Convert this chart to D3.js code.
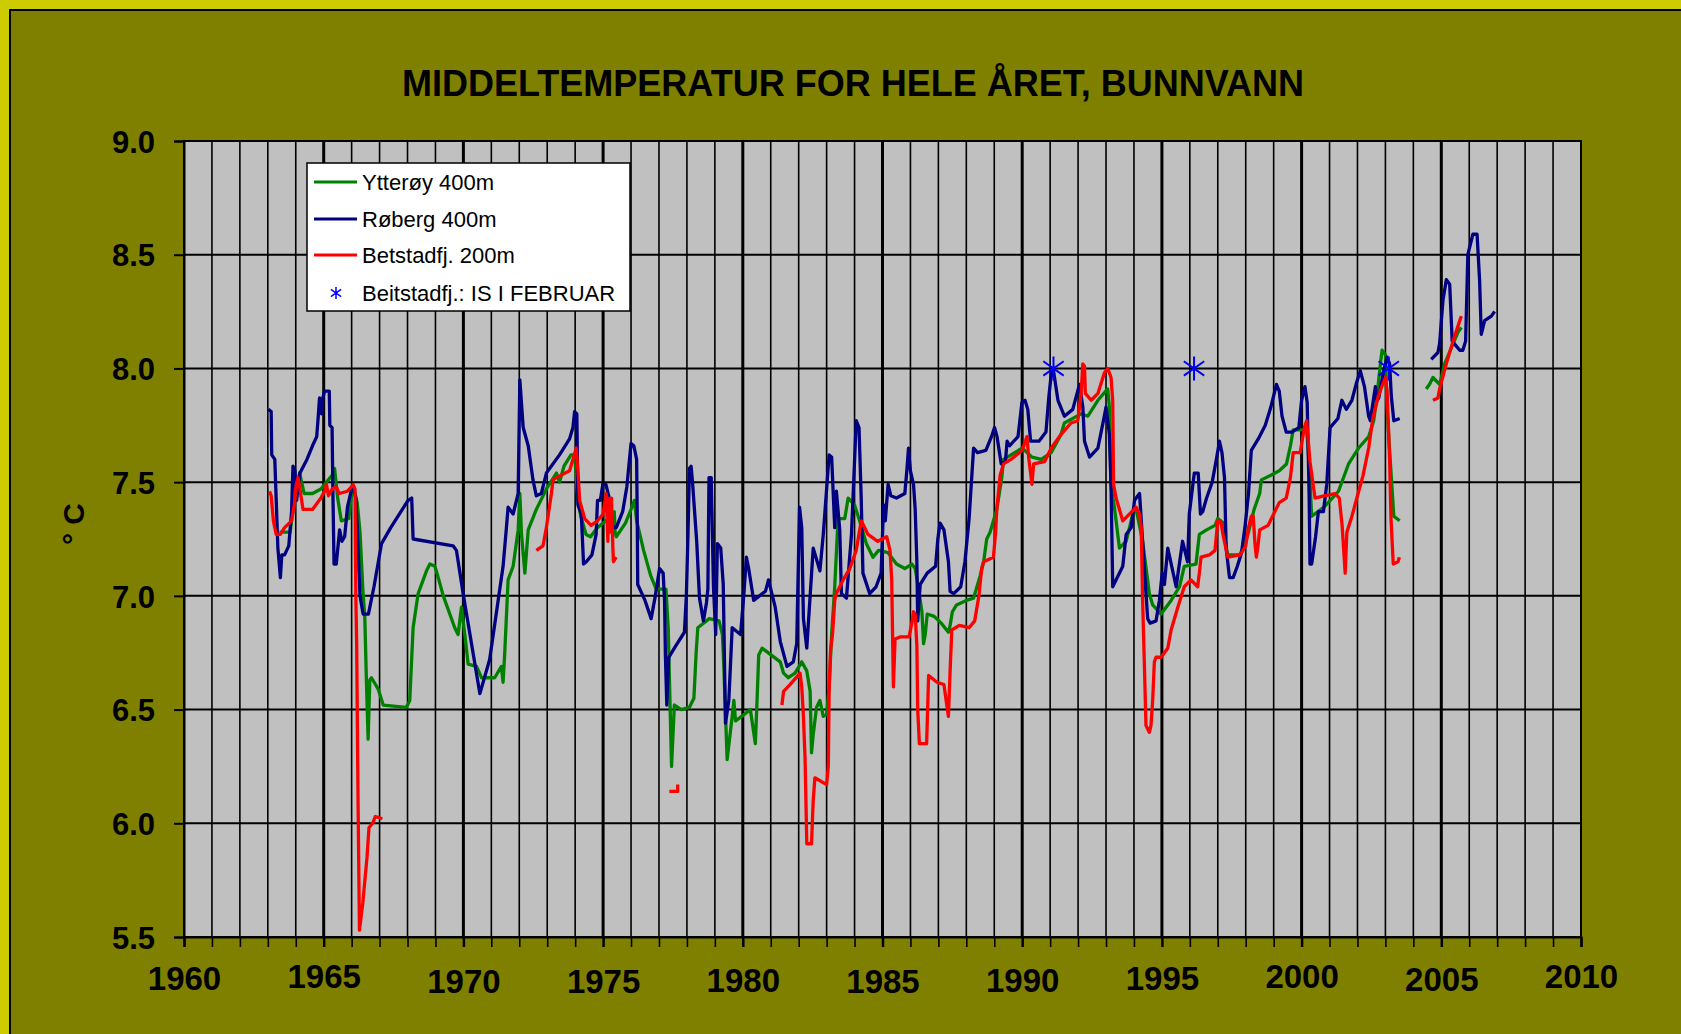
<!DOCTYPE html>
<html><head><meta charset="utf-8">
<script src="https://cdn.jsdelivr.net/npm/d3@7"></script>
<style>html,body{margin:0;padding:0;background:#CCCC00;overflow:hidden} svg{display:block}</style>
</head><body>
<svg id="chart" width="1681" height="1034"></svg>
<script>
// ---------------- DATA ----------------
const chartTitle = "MIDDELTEMPERATUR FOR HELE ÅRET, BUNNVANN";
const yAxisTitle = "° C";
const xTickValues = [1960, 1965, 1970, 1975, 1980, 1985, 1990, 1995, 2000, 2005, 2010];
const yTickValues = [5.5, 6.0, 6.5, 7.0, 7.5, 8.0, 8.5, 9.0];
const seriesNames = ["Ytterøy 400m", "Røberg 400m", "Betstadfj. 200m"];
const markerName = "Beitstadfj.: IS I FEBRUAR";

// [year, °C]; a null value breaks the line
const ytteroy = [
 [1963.42,7.28],[1963.8,7.28],[1963.85,7.33],[1964.03,7.48],[1964.14,7.54],[1964.3,7.45],[1964.6,7.45],
 [1964.9,7.47],[1965.1,7.50],[1965.3,7.53],[1965.39,7.56],[1965.5,7.43],[1965.63,7.33],[1965.9,7.34],
 [1966.0,7.45],[1966.08,7.47],[1966.2,7.41],[1966.3,7.28],[1966.4,7.03],[1966.47,6.91],[1966.53,6.62],
 [1966.59,6.37],[1966.65,6.63],[1966.71,6.64],[1966.95,6.59],[1967.13,6.52],[1967.96,6.51],[1968.08,6.54],
 [1968.20,6.86],[1968.38,7.01],[1968.68,7.11],[1968.80,7.14],[1968.98,7.13],[1969.10,7.08],[1969.28,7.00],
 [1969.69,6.86],[1969.81,6.83],[1969.93,6.95],[1970.05,6.83],[1970.17,6.70],[1970.47,6.69],[1970.65,6.64],
 [1971.12,6.64],[1971.36,6.69],[1971.42,6.62],[1971.48,6.75],[1971.60,7.07],[1971.78,7.13],[1971.96,7.29],
 [1972.02,7.45],[1972.08,7.27],[1972.20,7.10],[1972.32,7.29],[1972.61,7.38],[1972.97,7.47],[1973.33,7.54],
 [1973.44,7.50],[1973.6,7.57],[1973.85,7.62],[1973.98,7.62],[1974.1,7.42],[1974.2,7.35],[1974.39,7.27],
 [1974.55,7.26],[1974.8,7.30],[1975.1,7.33],[1975.4,7.37],[1975.43,7.28],[1975.47,7.26],[1975.8,7.32],
 [1976.0,7.38],[1976.12,7.42],[1976.2,7.33],[1976.45,7.20],[1976.7,7.09],[1976.9,7.03],[1977.25,7.03],
 [1977.33,6.86],[1977.4,6.50],[1977.45,6.25],[1977.55,6.52],[1977.8,6.50],[1978.09,6.51],[1978.25,6.55],
 [1978.33,6.75],[1978.39,6.86],[1978.8,6.90],[1979.15,6.89],[1979.27,6.83],[1979.32,6.69],[1979.44,6.28],
 [1979.62,6.47],[1979.68,6.54],[1979.74,6.45],[1980.27,6.50],[1980.33,6.45],[1980.45,6.35],[1980.51,6.54],
 [1980.57,6.74],[1980.69,6.77],[1981.34,6.71],[1981.46,6.66],[1981.63,6.64],[1981.87,6.66],[1982.11,6.71],
 [1982.29,6.67],[1982.41,6.58],[1982.46,6.31],[1982.52,6.39],[1982.64,6.51],[1982.76,6.54],[1982.88,6.47],
 [1983.00,6.48],[1983.09,6.60],[1983.18,6.83],[1983.29,7.04],[1983.41,7.34],[1983.65,7.34],[1983.77,7.43],
 [1984.00,7.40],[1984.18,7.33],[1984.42,7.23],[1984.66,7.17],[1984.86,7.20],[1985.2,7.19],[1985.5,7.14],
 [1985.8,7.12],[1986.05,7.14],[1986.17,7.12],[1986.29,7.03],[1986.41,6.93],[1986.47,6.79],[1986.53,6.83],
 [1986.6,6.92],[1986.85,6.91],[1987.1,6.88],[1987.36,6.84],[1987.42,6.87],[1987.5,6.93],[1987.65,6.96],
 [1988.0,6.98],[1988.26,6.99],[1988.38,7.04],[1988.5,7.09],[1988.62,7.15],[1988.73,7.25],[1988.85,7.28],
 [1989.09,7.38],[1989.27,7.52],[1989.33,7.60],[1989.6,7.62],[1990.0,7.65],[1990.35,7.61],[1990.68,7.60],
 [1991.04,7.63],[1991.39,7.71],[1991.51,7.76],[1992.11,7.80],[1992.35,7.79],[1992.71,7.86],[1993.06,7.91],
 [1993.12,7.83],[1993.18,7.48],[1993.30,7.39],[1993.48,7.21],[1993.72,7.24],[1993.96,7.36],[1994.08,7.38],
 [1994.31,7.24],[1994.55,7.01],[1994.67,6.96],[1994.97,6.92],[1995.33,6.98],[1995.63,7.04],[1995.80,7.13],
 [1996.22,7.14],[1996.34,7.27],[1996.6,7.29],[1996.9,7.31],[1997.0,7.34],[1997.2,7.32],[1997.26,7.25],
 [1997.35,7.18],[1997.78,7.18],[1997.95,7.22],[1998.1,7.28],[1998.3,7.38],[1998.5,7.45],[1998.56,7.51],
 [1998.9,7.53],[1999.2,7.55],[1999.46,7.58],[1999.6,7.66],[1999.7,7.73],[2000.18,7.73],[2000.26,7.60],
 [2000.36,7.35],[2000.8,7.39],[2001.1,7.43],[2001.32,7.46],[2001.68,7.58],[2002.04,7.65],[2002.4,7.70],
 [2002.58,7.77],[2002.7,7.88],[2002.82,8.02],[2002.88,8.08],[2003.0,8.06],[2003.06,7.82],[2003.15,7.64],
 [2003.3,7.35],[2003.51,7.33],
 [2004.0,null],
 [2004.46,7.91],[2004.58,7.93],[2004.70,7.96],[2004.94,7.93],[2005.12,8.02],[2005.36,8.09],[2005.60,8.16],[2005.72,8.18]
];

const roberg = [
 [1963.02,7.82],[1963.12,7.81],[1963.14,7.62],[1963.25,7.60],[1963.36,7.21],[1963.45,7.08],[1963.5,7.18],
 [1963.6,7.18],[1963.75,7.22],[1963.85,7.37],[1963.9,7.57],[1963.97,7.55],[1964.03,7.42],[1964.15,7.54],
 [1964.4,7.60],[1964.6,7.66],[1964.75,7.70],[1964.8,7.78],[1964.85,7.87],[1964.92,7.80],[1964.97,7.87],
 [1965.03,7.90],[1965.2,7.90],[1965.22,7.75],[1965.3,7.74],[1965.33,7.45],[1965.37,7.14],[1965.45,7.14],
 [1965.57,7.29],[1965.65,7.24],[1965.75,7.26],[1965.85,7.39],[1966.0,7.47],[1966.05,7.48],[1966.15,7.43],
 [1966.2,7.30],[1966.3,7.00],[1966.41,6.92],[1966.6,6.92],[1966.8,7.04],[1967.07,7.23],[1967.4,7.30],
 [1968.02,7.42],[1968.15,7.43],[1968.2,7.25],[1969.63,7.22],[1969.75,7.20],[1969.99,7.01],[1970.59,6.57],
 [1970.94,6.72],[1971.42,7.13],[1971.54,7.30],[1971.60,7.39],[1971.78,7.36],[1971.96,7.45],[1972.02,7.95],
 [1972.14,7.74],[1972.32,7.66],[1972.49,7.51],[1972.61,7.44],[1972.79,7.45],[1972.97,7.54],[1973.44,7.62],
 [1973.8,7.69],[1973.92,7.74],[1973.98,7.81],[1974.06,7.80],[1974.1,7.40],[1974.22,7.36],[1974.3,7.14],
 [1974.4,7.15],[1974.6,7.18],[1974.75,7.27],[1974.8,7.42],[1974.9,7.42],[1974.99,7.49],[1975.1,7.49],
 [1975.2,7.44],[1975.35,7.30],[1975.47,7.30],[1975.7,7.37],[1975.85,7.48],[1976.0,7.67],[1976.1,7.66],
 [1976.2,7.60],[1976.22,7.37],[1976.24,7.05],[1976.5,6.98],[1976.72,6.90],[1976.87,7.00],[1977.02,7.12],
 [1977.15,7.10],[1977.2,6.98],[1977.23,6.74],[1977.28,6.52],[1977.35,6.73],[1977.6,6.78],[1977.91,6.84],
 [1977.98,7.00],[1978.04,7.28],[1978.09,7.56],[1978.15,7.57],[1978.2,7.50],[1978.35,7.24],[1978.45,6.99],
 [1978.59,6.89],[1978.7,6.97],[1978.75,7.03],[1978.79,7.52],[1978.87,7.52],[1978.95,7.04],[1979.03,6.83],
 [1979.09,7.23],[1979.21,7.21],[1979.30,7.05],[1979.38,6.44],[1979.50,6.54],[1979.62,6.86],[1979.92,6.83],
 [1980.04,7.01],[1980.13,7.17],[1980.21,7.12],[1980.39,6.98],[1980.81,7.02],[1980.92,7.07],[1981.16,6.95],
 [1981.34,6.80],[1981.58,6.69],[1981.81,6.71],[1981.93,6.79],[1982.03,7.39],[1982.11,7.30],[1982.17,6.90],
 [1982.29,6.77],[1982.52,7.21],[1982.76,7.11],[1982.88,7.27],[1983.09,7.62],[1983.18,7.61],[1983.29,7.30],
 [1983.35,7.46],[1983.47,7.29],[1983.53,7.01],[1983.71,6.99],[1983.89,7.27],[1984.06,7.77],[1984.16,7.74],
 [1984.24,7.42],[1984.30,7.10],[1984.54,7.01],[1984.77,7.04],[1984.95,7.10],[1985.04,7.40],[1985.1,7.33],
 [1985.2,7.49],[1985.3,7.44],[1985.5,7.43],[1985.8,7.45],[1985.87,7.55],[1985.93,7.65],[1986.0,7.55],
 [1986.11,7.49],[1986.17,7.38],[1986.23,7.15],[1986.26,6.89],[1986.35,7.05],[1986.6,7.10],[1986.9,7.13],
 [1986.98,7.25],[1987.06,7.32],[1987.2,7.29],[1987.36,7.15],[1987.42,7.02],[1987.55,7.01],[1987.8,7.04],
 [1987.95,7.15],[1988.1,7.34],[1988.26,7.65],[1988.4,7.63],[1988.7,7.64],[1988.9,7.70],[1989.01,7.74],
 [1989.1,7.70],[1989.25,7.58],[1989.4,7.59],[1989.46,7.68],[1989.55,7.66],[1989.85,7.70],[1989.99,7.85],
 [1990.1,7.86],[1990.2,7.82],[1990.3,7.68],[1990.6,7.68],[1990.85,7.72],[1990.95,7.87],[1991.06,8.00],
 [1991.12,7.99],[1991.28,7.86],[1991.51,7.79],[1991.81,7.82],[1992.05,7.93],[1992.17,7.83],[1992.23,7.68],
 [1992.41,7.61],[1992.71,7.65],[1992.94,7.79],[1993.00,7.83],[1993.12,7.71],[1993.18,7.48],[1993.24,7.04],
 [1993.60,7.13],[1993.72,7.27],[1993.90,7.30],[1994.02,7.42],[1994.20,7.45],[1994.31,7.24],[1994.49,6.90],
 [1994.58,6.88],[1994.79,6.89],[1994.91,6.98],[1995.01,7.10],[1995.09,7.05],[1995.21,7.21],[1995.51,7.04],
 [1995.74,7.24],[1995.92,7.15],[1995.98,7.36],[1996.16,7.54],[1996.3,7.54],[1996.38,7.36],[1996.46,7.37],
 [1996.6,7.43],[1996.8,7.50],[1996.95,7.60],[1997.06,7.68],[1997.15,7.63],[1997.24,7.52],[1997.3,7.21],
 [1997.42,7.08],[1997.55,7.08],[1997.7,7.13],[1997.85,7.19],[1997.98,7.31],[1998.1,7.45],[1998.2,7.64],
 [1998.45,7.69],[1998.7,7.75],[1998.9,7.83],[1999.1,7.93],[1999.2,7.90],[1999.3,7.79],[1999.45,7.72],
 [1999.65,7.72],[1999.9,7.74],[2000.0,7.86],[2000.12,7.92],[2000.2,7.85],[2000.27,7.44],[2000.3,7.14],
 [2000.36,7.14],[2000.5,7.26],[2000.6,7.37],[2000.78,7.37],[2000.9,7.49],[2001.02,7.74],[2001.3,7.78],
 [2001.44,7.86],[2001.6,7.82],[2001.8,7.86],[2001.95,7.93],[2002.1,7.99],[2002.25,7.92],[2002.4,7.79],
 [2002.46,7.77],[2002.58,7.87],[2002.64,7.92],[2002.7,7.86],[2002.76,7.87],[2002.94,7.99],[2003.06,8.05],
 [2003.15,8.02],[2003.21,7.88],[2003.3,7.77],[2003.51,7.78],
 [2004.0,null],
 [2004.64,8.04],[2004.88,8.07],[2004.94,8.11],[2005.06,8.30],[2005.18,8.39],[2005.30,8.37],[2005.39,8.12],
 [2005.66,8.08],[2005.77,8.08],[2005.87,8.12],[2005.95,8.50],[2006.13,8.59],[2006.28,8.59],[2006.37,8.39],
 [2006.43,8.15],[2006.55,8.21],[2006.79,8.23],[2006.91,8.25]
];

const betstad = [
 [1963.06,7.46],[1963.12,7.44],[1963.2,7.33],[1963.3,7.27],[1963.45,7.27],[1963.6,7.30],[1963.85,7.33],
 [1963.95,7.40],[1964.02,7.49],[1964.08,7.52],[1964.15,7.47],[1964.26,7.38],[1964.6,7.38],[1964.9,7.43],
 [1965.03,7.46],[1965.1,7.49],[1965.17,7.44],[1965.3,7.47],[1965.45,7.48],[1965.55,7.45],[1965.85,7.46],
 [1966.0,7.48],[1966.05,7.49],[1966.12,7.47],[1966.15,7.00],[1966.18,6.79],[1966.23,6.09],[1966.28,5.53],
 [1966.40,5.65],[1966.55,5.85],[1966.62,5.98],[1966.75,6.00],[1966.85,6.03],[1967.10,6.02],
 [1970.0,null],
 [1972.61,7.20],[1972.85,7.22],[1972.97,7.30],[1973.15,7.45],[1973.21,7.51],[1973.33,7.52],[1973.80,7.55],
 [1973.92,7.60],[1974.04,7.65],[1974.1,7.55],[1974.16,7.42],[1974.34,7.34],[1974.57,7.31],[1974.8,7.33],
 [1975.0,7.36],[1975.11,7.45],[1975.17,7.24],[1975.2,7.43],[1975.25,7.28],[1975.3,7.43],[1975.35,7.21],
 [1975.37,7.15],[1975.47,7.17],
 [1976.5,null],
 [1977.37,6.14],[1977.67,6.14],[1977.67,6.17],
 [1979.5,null],
 [1981.40,6.52],[1981.46,6.58],[1981.69,6.61],[1982.05,6.66],[1982.11,6.60],[1982.17,6.47],[1982.23,6.28],
 [1982.29,5.91],[1982.46,5.91],[1982.52,6.10],[1982.58,6.20],[1983.00,6.17],[1983.06,6.25],[1983.09,6.58],
 [1983.14,6.76],[1983.21,6.83],[1983.29,6.98],[1983.35,7.01],[1983.59,7.07],[1983.83,7.12],[1984.06,7.20],
 [1984.24,7.33],[1984.48,7.27],[1984.83,7.24],[1985.15,7.26],[1985.27,7.20],[1985.33,7.07],[1985.39,6.60],
 [1985.45,6.81],[1985.65,6.82],[1985.95,6.82],[1986.05,6.88],[1986.11,6.93],[1986.17,6.92],[1986.23,6.78],
 [1986.26,6.50],[1986.32,6.35],[1986.58,6.35],[1986.65,6.65],[1986.95,6.62],[1987.2,6.61],[1987.3,6.52],
 [1987.36,6.47],[1987.42,6.67],[1987.48,6.85],[1987.75,6.87],[1988.1,6.86],[1988.3,6.89],[1988.45,7.00],
 [1988.55,7.12],[1988.62,7.15],[1988.97,7.17],[1989.05,7.28],[1989.09,7.38],[1989.21,7.53],[1989.33,7.58],
 [1989.6,7.60],[1990.0,7.64],[1990.17,7.70],[1990.23,7.61],[1990.35,7.49],[1990.41,7.58],[1990.8,7.59],
 [1991.04,7.65],[1991.39,7.71],[1991.75,7.76],[1991.99,7.77],[1992.11,7.89],[1992.17,8.02],[1992.23,8.01],
 [1992.26,7.89],[1992.47,7.86],[1992.71,7.89],[1992.94,7.98],[1993.06,8.00],[1993.18,7.96],[1993.24,7.86],
 [1993.27,7.49],[1993.36,7.43],[1993.60,7.33],[1994.08,7.39],[1994.20,7.36],[1994.26,7.30],[1994.31,6.98],
 [1994.37,6.71],[1994.43,6.43],[1994.55,6.40],[1994.61,6.43],[1994.67,6.54],[1994.73,6.71],[1994.79,6.73],
 [1994.97,6.73],[1995.21,6.77],[1995.33,6.85],[1995.57,6.95],[1995.80,7.04],[1996.04,7.07],[1996.28,7.04],
 [1996.34,7.10],[1996.4,7.17],[1996.7,7.18],[1996.9,7.20],[1997.0,7.33],[1997.1,7.33],[1997.2,7.26],
 [1997.36,7.17],[1997.8,7.18],[1998.0,7.22],[1998.1,7.30],[1998.2,7.35],[1998.27,7.35],[1998.33,7.23],
 [1998.38,7.17],[1998.44,7.22],[1998.5,7.29],[1998.8,7.31],[1999.0,7.36],[1999.2,7.41],[1999.45,7.43],
 [1999.6,7.52],[1999.7,7.63],[1999.95,7.63],[2000.1,7.74],[2000.18,7.77],[2000.3,7.59],[2000.48,7.43],
 [2000.8,7.44],[2001.2,7.45],[2001.35,7.43],[2001.45,7.31],[2001.56,7.10],[2001.62,7.28],[2001.8,7.35],
 [2002.0,7.44],[2002.2,7.53],[2002.4,7.65],[2002.55,7.78],[2002.75,7.88],[2002.9,7.93],[2003.0,7.96],
 [2003.06,7.90],[2003.15,7.60],[2003.2,7.34],[2003.28,7.14],[2003.45,7.15],[2003.5,7.17],
 [2004.0,null],
 [2004.70,7.86],[2004.88,7.87],[2004.94,7.91],[2005.18,8.02],[2005.42,8.12],[2005.66,8.21],[2005.72,8.23]
];

const iceYears = [1991.12, 1996.15, 2003.12];
const iceValues = [8.0, 8.0, 8.0];

// ---------------- DRAW ----------------
const W = 1681, H = 1034;
const plot = {left: 184, right: 1581, top: 141, bottom: 937};
const colors = {ytteroy: "#008000", roberg: "#000080", betstad: "#FF0000", ice: "#0000FF"};
const FONT = "Liberation Sans, Arial, sans-serif";
// small vertical jitter of the year labels, as in the original picture (px)
const xLabelShift = {1960: 1.5, 1965: 0, 1970: 5, 1975: 5, 1980: 3.5, 1985: 5, 1990: 3.5, 1995: 1.5, 2000: 0, 2005: 2.5, 2010: 0};

const svg = d3.select("#chart");
svg.append("rect").attr("x", 0).attr("y", 0).attr("width", W).attr("height", H).attr("fill", "#CCCC00");
svg.append("rect").attr("x", 10).attr("y", 10).attr("width", W + 20).attr("height", H + 20)
   .attr("fill", "#808000").attr("stroke", "#000").attr("stroke-width", 2);

const x = d3.scaleLinear().domain([1960, 2010]).range([plot.left, plot.right]);
const y = d3.scaleLinear().domain([5.5, 9.0]).range([plot.bottom, plot.top]);

svg.append("rect").attr("x", plot.left).attr("y", plot.top)
   .attr("width", plot.right - plot.left).attr("height", plot.bottom - plot.top).attr("fill", "#C0C0C0");

// vertical year gridlines
const years = d3.range(1961, 2010);
svg.append("g").selectAll("line").data(years).join("line")
   .attr("x1", d => x(d)).attr("x2", d => x(d)).attr("y1", plot.top).attr("y2", plot.bottom)
   .attr("stroke", "#000").attr("stroke-width", d => d % 5 === 0 ? 3 : 1.6);
// horizontal gridlines
svg.append("g").selectAll("line").data(yTickValues.slice(1, -1)).join("line")
   .attr("x1", plot.left).attr("x2", plot.right).attr("y1", d => y(d)).attr("y2", d => y(d))
   .attr("stroke", "#000").attr("stroke-width", 2);
// plot border
svg.append("rect").attr("x", plot.left).attr("y", plot.top)
   .attr("width", plot.right - plot.left).attr("height", plot.bottom - plot.top)
   .attr("fill", "none").attr("stroke", "#000").attr("stroke-width", 2);

// x axis
const xAxis = d3.axisBottom(x).tickValues(d3.range(1960, 2011)).tickSize(10)
   .tickFormat(d => xTickValues.includes(d) ? String(d) : "");
const gx = svg.append("g").attr("transform", `translate(0,${plot.bottom})`).call(xAxis);
gx.select(".domain").attr("stroke", "#000").attr("stroke-width", 2);
gx.selectAll(".tick line").attr("stroke", "#000").attr("stroke-width", d => d % 5 === 0 ? 2.5 : 1.6);
gx.selectAll(".tick text").attr("fill", "#000").attr("font-family", FONT)
   .attr("font-weight", "bold").attr("font-size", 33)
   .attr("y", d => 28 + (xLabelShift[d] || 0)).attr("dy", "0.71em");

// y axis
const yAxis = d3.axisLeft(y).tickValues(yTickValues).tickSize(10).tickFormat(d3.format(".1f"));
const gy = svg.append("g").attr("transform", `translate(${plot.left},0)`).call(yAxis);
gy.select(".domain").attr("stroke", "#000").attr("stroke-width", 2);
gy.selectAll(".tick line").attr("stroke", "#000").attr("stroke-width", 2);
gy.selectAll(".tick text").attr("fill", "#000").attr("font-family", FONT)
   .attr("font-weight", "bold").attr("font-size", 31).attr("x", -29).attr("dy", "0.36em");

// title
svg.append("text").attr("x", 853).attr("y", 96).attr("text-anchor", "middle")
   .attr("font-family", FONT).attr("font-weight", "bold")
   .attr("font-size", 36).attr("fill", "#000").text(chartTitle);

// y axis title
svg.append("text").attr("transform", "translate(84,524) rotate(-90)").attr("text-anchor", "middle")
   .attr("font-family", FONT).attr("font-weight", "bold")
   .attr("font-size", 30).attr("fill", "#000").text(yAxisTitle);

// series
const line = d3.line().defined(d => d[1] !== null).x(d => x(d[0])).y(d => y(d[1]));
const series = [
  {data: ytteroy, color: colors.ytteroy},
  {data: roberg, color: colors.roberg},
  {data: betstad, color: colors.betstad}
];
svg.append("g").selectAll("path").data(series).join("path")
   .attr("d", d => line(d.data)).attr("fill", "none").attr("stroke", d => d.color)
   .attr("stroke-width", 3.3).attr("stroke-linejoin", "round");

// ice markers (asterisks)
function asterisk(r) {
  const k = r * 0.85;
  return `M0,${-r}L0,${r}M${-k},${-k*0.7}L${k},${k*0.7}M${-k},${k*0.7}L${k},${-k*0.7}`;
}
const iceData = iceYears.map((yr, i) => [yr, iceValues[i]]);
svg.append("g").selectAll("path").data(iceData).join("path")
   .attr("transform", d => `translate(${x(d[0])},${y(d[1])})`)
   .attr("d", asterisk(12)).attr("stroke", colors.ice).attr("stroke-width", 2).attr("fill", "none");

// legend
const lg = svg.append("g");
lg.append("rect").attr("x", 307).attr("y", 163).attr("width", 323).attr("height", 148)
  .attr("fill", "#fff").attr("stroke", "#000").attr("stroke-width", 1.5);
const legendRows = [
  {name: seriesNames[0], color: colors.ytteroy, cy: 182},
  {name: seriesNames[1], color: colors.roberg, cy: 219},
  {name: seriesNames[2], color: colors.betstad, cy: 255}
];
legendRows.forEach(r => {
  lg.append("line").attr("x1", 314).attr("x2", 357).attr("y1", r.cy).attr("y2", r.cy)
    .attr("stroke", r.color).attr("stroke-width", 3);
  lg.append("text").attr("x", 362).attr("y", r.cy + 8).attr("font-family", FONT)
    .attr("font-size", 22).attr("fill", "#000").text(r.name);
});
lg.append("path").attr("transform", "translate(336,293)").attr("d", asterisk(6))
  .attr("stroke", colors.ice).attr("stroke-width", 1.5).attr("fill", "none");
lg.append("text").attr("x", 362).attr("y", 301).attr("font-family", FONT)
  .attr("font-size", 22).attr("fill", "#000").text(markerName);
</script>
</body></html>
